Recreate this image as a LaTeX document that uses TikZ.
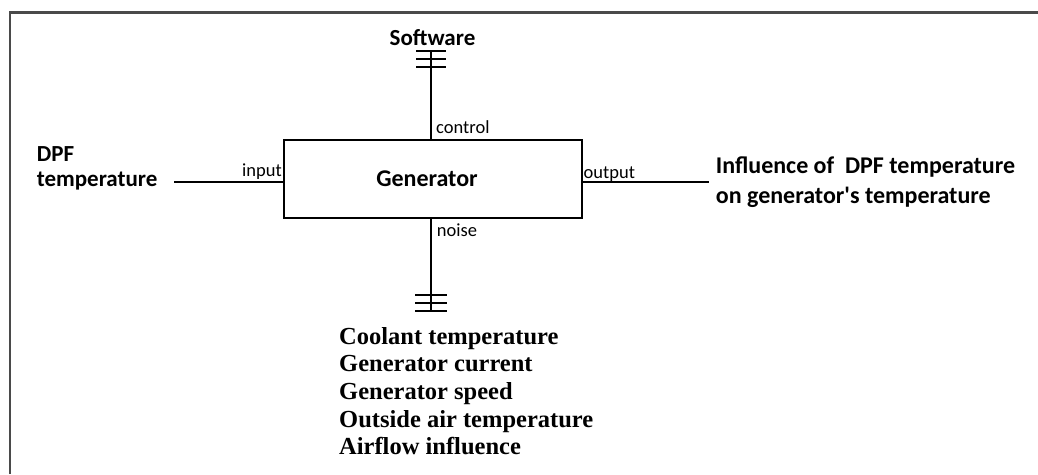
\documentclass[tikz,border=0pt]{standalone}
\usepackage{fontspec}
\setmainfont{Carlito}
\newfontfamily\carlq{Carlito}[Ligatures=TeXOff]
\newfontfamily\tnr{Liberation Serif}
\usetikzlibrary{calc}
\definecolor{framecol}{HTML}{4A4A4A}
\begin{document}
\begin{tikzpicture}[x=1pt,y=-1pt,
  ln/.style={line width=1.5pt, line cap=rect},
  big/.style={font=\bfseries\fontsize{23}{25}\selectfont, inner sep=0pt},
  lab/.style={font=\fontsize{18.5}{20}\selectfont, inner sep=0pt},
  lst/.style={font=\tnr\bfseries\fontsize{24.5}{27}\selectfont, inner sep=0pt, anchor=base west}]
\useasboundingbox (0,0) rectangle (1038,474);
% frame
\draw[line width=2.2pt, framecol] (10,474) -- (10,12.5) -- (1038,12.5);
% generator box
\node[draw, line width=1.6pt, minimum width=298pt, minimum height=78pt, inner sep=0pt,
      font=\bfseries\fontsize{24}{26}\selectfont] (gen) at (433,178.7) {\hspace*{-12pt}Generator};
% coordinates for free ends
\coordinate (inL) at (175,182);
\coordinate (outR) at (708,182);
\coordinate (swc) at (431,51);
\coordinate (nzc) at (431,311);
% connectors
\draw[ln] (inL) -- (inL -| gen.west);
\draw[ln] (gen.east |- outR) -- (outR);
\draw[ln] (swc) -- (swc |- gen.north);
\draw[ln] (nzc |- gen.south) -- (nzc);
% bars
\foreach \d in {0,8,16} {
  \draw[ln] ($(swc)+(-14.5,\d)$) -- ($(swc)+(14.5,\d)$);
  \draw[ln] ($(nzc)+(-15.5,-\d)$) -- ($(nzc)+(15.5,-\d)$);
}
% texts
\node[big, anchor=base] (sw) at (432.5,45) {Software};
\node[big, anchor=base west] (dpf1) at (36.7,161.7) {DPF};
\node[big, anchor=base west] (dpf2) at (36.7,186.7) {temperature};
\node[lab, anchor=base east] (lin) at (282,176.7) {input};
\node[lab, anchor=base west] (lout) at (583.5,178) {output};
\node[lab, anchor=base west] (lctl) at (436,133.3) {control};
\node[lab, anchor=base west] (lnz) at (436.7,236) {noise};
\node[big, font=\bfseries\fontsize{24}{26}\selectfont, anchor=base west] (inf1) at (715.7,173.3) {Influence of~ DPF temperature};
\node[big, font=\bfseries\fontsize{24}{26}\selectfont, anchor=base west] (inf2) at (715.7,203) {on generator{\carlq\bfseries '}s temperature};
\node[lst] (n1) at (339,344) {Coolant temperature};
\node[lst] (n2) at (339,371.7) {Generator current};
\node[lst] (n3) at (339,399.4) {Generator speed};
\node[lst] (n4) at (339,427.1) {Outside air temperature};
\node[lst] (n5) at (339,454.8) {Airflow influence};
\end{tikzpicture}
\end{document}
